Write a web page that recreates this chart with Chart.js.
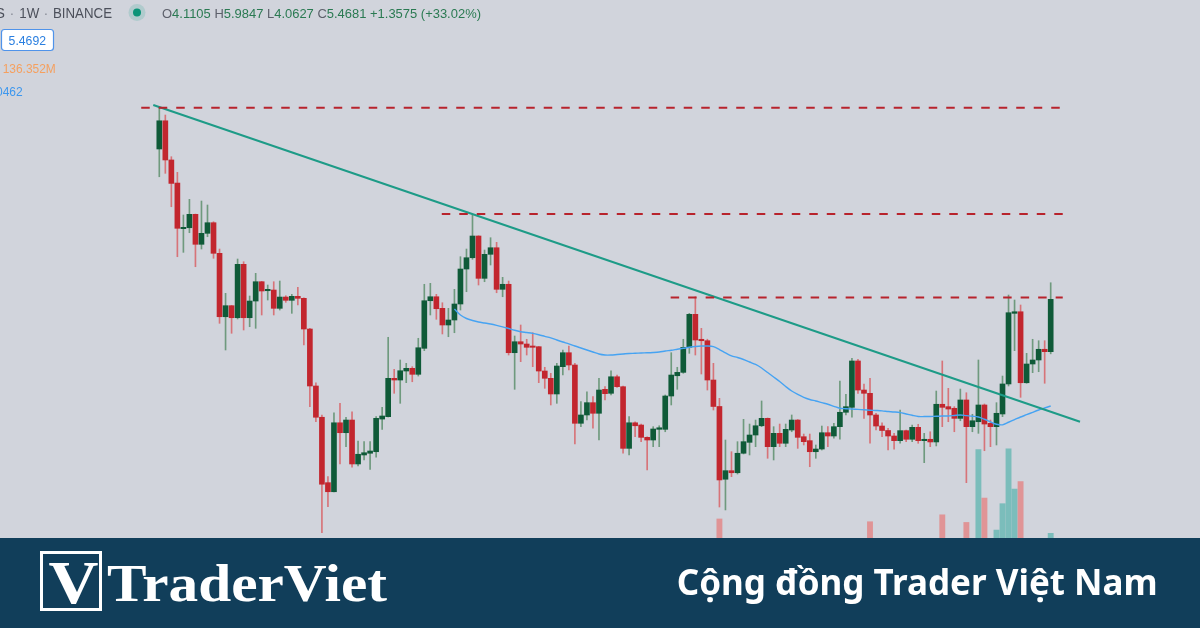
<!DOCTYPE html>
<html>
<head>
<meta charset="utf-8">
<script src="https://cdn.jsdelivr.net/npm/chart.js@4.4.1/dist/chart.umd.min.js"></script>
<style>
html,body{margin:0;padding:0;width:1200px;height:628px;overflow:hidden;background:#d1d4dc;}
#wrap{position:relative;width:1200px;height:628px;}
#c{position:absolute;left:0;top:0;}
#ov{position:absolute;left:0;top:0;}
</style>
</head>
<body>
<div id="wrap">
<canvas id="c" width="1200" height="628"></canvas>
<svg id="ov" width="1200" height="628" xmlns="http://www.w3.org/2000/svg">
  <g font-family="'Liberation Sans', Arial, sans-serif">
    <text x="5" y="18" font-size="14.5" fill="#4c505b" text-anchor="end">S</text>
    <text x="12" y="18" font-size="14.5" fill="#8a8e99" text-anchor="middle">·</text>
    <text x="19.3" y="18" font-size="14.5" fill="#4c505b" textLength="20" lengthAdjust="spacingAndGlyphs">1W</text>
    <text x="46" y="18" font-size="14.5" fill="#8a8e99" text-anchor="middle">·</text>
    <text x="53" y="18" font-size="14.5" fill="#4c505b" textLength="59" lengthAdjust="spacingAndGlyphs">BINANCE</text>
    <circle cx="137" cy="12.5" r="8.5" fill="rgba(8,153,129,0.16)"/>
    <circle cx="137" cy="12.5" r="4" fill="#0b9478"/>
    <text x="162" y="18.3" font-size="13" textLength="319" lengthAdjust="spacingAndGlyphs"><tspan fill="#5d606b">O</tspan><tspan fill="#2a7a52">4.1105 </tspan><tspan fill="#5d606b">H</tspan><tspan fill="#2a7a52">5.9847 </tspan><tspan fill="#5d606b">L</tspan><tspan fill="#2a7a52">4.0627 </tspan><tspan fill="#5d606b">C</tspan><tspan fill="#2a7a52">5.4681 +1.3575 (+33.02%)</tspan></text>
    <rect x="1.5" y="29.5" width="52" height="21" rx="3" ry="3" fill="#ffffff" stroke="#4f93ea" stroke-width="1.2"/>
    <text x="27.3" y="45" font-size="12.5" fill="#2a7fe0" text-anchor="middle" textLength="37.4" lengthAdjust="spacingAndGlyphs">5.4692</text>
    <text x="2.7" y="72.7" font-size="12" fill="#f5a05f" textLength="53" lengthAdjust="spacingAndGlyphs">136.352M</text>
    <text x="22.7" y="96" font-size="12" fill="#3d97ee" text-anchor="end">0462</text>
  </g>
  <rect x="0" y="538" width="1200" height="90" fill="#113e5a"/>
  <rect x="41.5" y="552.5" width="59" height="57" fill="none" stroke="#ffffff" stroke-width="3"/>
  <text x="48.5" y="603" font-family="'Liberation Serif', 'DejaVu Serif', serif" font-weight="700" font-size="62" fill="#ffffff" textLength="50" lengthAdjust="spacingAndGlyphs">V</text>
  <text x="107" y="601.3" font-family="'Liberation Serif', 'DejaVu Serif', serif" font-weight="700" font-size="53" fill="#ffffff" textLength="280" lengthAdjust="spacingAndGlyphs">TraderViet</text>
  <text x="676.7" y="595" font-family="'Noto Sans', 'DejaVu Sans', sans-serif" font-weight="700" font-size="35" fill="#ffffff" textLength="481" lengthAdjust="spacingAndGlyphs">Cộng đồng Trader Việt Nam</text>
</svg>
</div>
<script>
// Weekly candles (price)
const opens = [12.40,14.46,11.68,10.30,8.033,8.075,8.688,7.378,7.833,8.299,
7.025,4.973,5.281,4.946,6.616,4.946,5.417,6.018,5.730,5.752,
5.206,5.536,5.438,5.557,5.497,4.651,3.410,2.876,2.014,1.917,
2.791,2.644,2.833,2.230,2.342,2.364,2.384,2.848,2.885,3.556,
3.523,3.700,3.754,3.634,4.187,5.426,5.545,5.206,4.754,4.885,
5.330,6.449,6.858,7.719,6.130,6.987,7.242,5.774,5.934,4.088,
4.340,4.286,4.240,4.224,3.700,3.556,3.265,3.788,4.088,3.823,
2.783,2.912,3.114,2.939,3.349,3.277,3.586,3.397,2.428,2.791,
2.757,2.578,2.541,2.693,2.693,3.229,3.606,3.673,4.210,5.039,
4.398,4.364,3.523,3.050,2.052,2.150,2.126,2.364,2.509,2.611,
2.746,2.859,2.450,2.635,2.496,2.683,2.833,2.587,2.532,2.384,
2.419,2.644,2.597,2.732,2.955,3.036,3.908,3.336,3.277,2.912,
2.742,2.676,2.597,2.532,2.674,2.551,2.723,2.532,2.551,2.514,
3.087,3.047,3.020,2.859,3.160,2.732,2.807,3.075,2.783,2.732,
2.928,3.448,5.066,5.110,3.471,3.844,3.929,4.165,4.1105];
const highs = [15.61,14.92,11.89,10.92,8.655,9.427,8.70,9.340,9.139,8.344,
7.191,5.649,5.29,6.810,6.710,5.567,6.300,6.03,5.911,6.018,
6.041,5.576,5.618,5.837,5.515,4.67,3.471,2.912,2.081,2.948,
3.103,2.876,2.964,2.527,2.518,2.518,2.885,3.036,4.446,3.734,
3.929,3.858,3.788,4.422,5.934,5.966,5.618,5.367,5.206,5.774,
6.896,7.191,8.655,7.73,7.152,7.648,7.458,6.164,6.041,4.478,
4.754,4.398,4.558,4.230,3.776,3.654,3.858,4.149,4.240,3.858,
3.131,3.305,3.217,3.556,3.397,3.706,3.620,3.41,2.885,2.807,
2.772,2.587,2.732,2.746,3.247,4.088,3.776,4.398,5.066,5.545,
4.669,4.40,3.858,3.189,2.541,2.384,2.518,2.844,2.772,2.833,
3.143,2.865,2.732,2.772,2.772,2.912,2.84,2.625,2.625,2.473,
2.742,2.732,2.783,3.504,3.259,3.965,3.944,3.448,3.556,2.939,
2.791,2.708,2.635,2.992,2.683,2.757,2.768,2.635,2.658,3.318,
3.908,3.367,3.047,3.354,3.287,2.923,3.929,3.092,2.833,3.114,
3.600,5.597,5.447,5.301,4.074,4.398,4.364,4.364,5.9847];
const lows = [10.66,10.86,9.054,6.896,7.062,7.859,6.530,7.191,7.689,6.836,
4.798,4.149,4.544,4.912,4.626,4.710,4.669,5.020,5.447,5.020,
5.158,5.379,5.066,5.301,4.263,3.047,2.807,1.533,1.767,1.915,
2.230,2.450,2.190,2.206,2.279,2.166,2.313,2.693,2.88,3.277,
3.103,3.472,3.490,3.600,4.133,5.020,4.904,4.527,4.460,4.558,
5.158,5.699,6.799,5.911,6.018,6.591,5.667,5.545,4.037,3.349,
3.893,4.037,3.788,3.472,3.367,3.075,3.103,3.620,3.720,2.486,
2.732,2.833,2.712,2.541,3.160,3.247,3.386,2.364,2.342,2.587,
2.518,2.158,2.450,2.450,2.658,3.075,3.349,3.654,4.074,4.037,
3.640,3.336,2.992,1.764,1.736,2.081,2.111,2.355,2.342,2.450,
2.732,2.300,2.279,2.450,2.450,2.658,2.428,2.473,2.197,2.300,
2.406,2.450,2.565,2.551,2.912,2.876,3.277,2.859,2.496,2.683,
2.587,2.406,2.416,2.496,2.518,2.518,2.496,2.246,2.450,2.460,
2.732,2.807,2.658,2.822,2.014,2.658,2.635,2.397,2.450,2.473,
2.885,3.410,4.133,3.206,3.461,3.667,3.686,3.461,4.0627];
const closes = [14.46,11.68,10.28,8.050,8.093,8.688,7.378,7.833,8.299,7.025,
4.973,5.281,4.946,6.616,4.946,5.417,6.018,5.721,5.774,5.206,
5.536,5.438,5.557,5.497,4.651,3.410,2.876,1.997,1.917,2.791,
2.644,2.833,2.230,2.351,2.371,2.393,2.859,2.896,3.556,3.523,
3.706,3.754,3.634,4.200,5.426,5.545,5.195,4.754,4.885,5.330,
6.449,6.858,7.719,6.130,6.987,7.242,5.774,5.934,4.088,4.340,
4.286,4.210,4.210,3.700,3.556,3.265,3.802,4.088,3.823,2.783,
2.912,3.114,2.939,3.336,3.270,3.586,3.397,2.428,2.791,2.746,
2.578,2.541,2.698,2.716,3.229,3.620,3.673,4.210,5.039,4.381,
4.364,3.523,3.050,2.044,2.150,2.126,2.364,2.518,2.611,2.746,
2.859,2.450,2.635,2.496,2.693,2.833,2.578,2.518,2.384,2.419,
2.644,2.597,2.732,2.955,3.047,3.908,3.336,3.277,2.912,2.742,
2.676,2.597,2.532,2.674,2.551,2.723,2.532,2.551,2.514,3.087,
3.036,3.008,2.859,3.160,2.732,2.822,3.075,2.772,2.732,2.939,
3.448,5.083,5.110,3.471,3.844,3.929,4.165,4.1105,5.4681];

// Volume (millions) for the weeks whose bars rise above the footer band
const volumeWeeks = [93,118,130,134,136,137,139,140,141,142,143,148];
const volumeM = [157,153,163,152,257,187,141,179,258,200,211,136.352];

// Moving average line (starts at week 49)
const maStart = 49;
const maValues = [5.186,5.020,4.925,4.872,4.832,4.806,4.780,4.746,4.707,4.664,
4.621,4.583,4.563,4.542,4.509,4.470,4.432,4.381,4.333,4.291,
4.240,4.194,4.149,4.104,4.059,4.037,4.037,4.048,4.059,4.071,
4.075,4.082,4.086,4.093,4.104,4.126,4.142,4.165,4.187,4.210,
4.228,4.240,4.240,4.224,4.160,4.086,4.019,3.983,3.940,3.886,
3.834,3.761,3.669,3.581,3.494,3.401,3.318,3.256,3.206,3.169,
3.143,3.114,3.087,3.053,3.020,3.013,3.008,3.002,2.995,2.989,
2.984,2.978,2.968,2.960,2.949,2.928,2.907,2.888,2.887,2.888,
2.891,2.895,2.896,2.904,2.912,2.902,2.893,2.880,2.845,2.805,
2.769,2.760,2.799,2.839,2.880,2.917,2.955,2.992,3.025,3.058];

// Drawing tools: descending trendline and horizontal resistance levels
const trendWeeks = [-1.0, 152.87];
const trendPrices = [15.76, 2.807];
const levelPrices = [15.53, 8.70, 5.522];
const levelStartWeeks = [-3.0, 46.9, 84.9];
const levelEndWeek = 150.0;

const GREEN_BODY = '#0f5a38', RED_BODY = '#c2262e';
const GREEN_WICK = '#6f9a7e', RED_WICK = '#d77479';
const VOL_UP = 'rgba(38,166,154,0.5)', VOL_DOWN = 'rgba(239,83,80,0.5)';

const idx = opens.map((_, i) => i);
const up = idx.map(i => closes[i] >= opens[i]);

const datasets = [];
datasets.push({
  type: 'bar', label: 'volume', yAxisID: 'yv', order: 6, grouped: false,
  data: volumeWeeks.map((w, k) => ({x: w, y: volumeM[k]})),
  backgroundColor: volumeWeeks.map(w => up[w] ? VOL_UP : VOL_DOWN),
  barThickness: 5.2, maxBarThickness: 5.2, borderWidth: 0
});
datasets.push({
  type: 'bar', label: 'wick', yAxisID: 'y', order: 5, grouped: false,
  data: idx.map(i => ({x: i, y: [lows[i], highs[i]]})),
  backgroundColor: idx.map(i => up[i] ? GREEN_WICK : RED_WICK),
  barThickness: 1, maxBarThickness: 1, borderWidth: 0
});
datasets.push({
  type: 'bar', label: 'body', yAxisID: 'y', order: 4, grouped: false,
  data: idx.map(i => ({x: i, y: [opens[i], closes[i]]})),
  backgroundColor: idx.map(i => up[i] ? GREEN_BODY : RED_BODY),
  barThickness: 5, maxBarThickness: 5, borderWidth: 0, minBarLength: 1.2
});
datasets.push({
  type: 'line', label: 'ma', yAxisID: 'y', order: 3,
  data: maValues.map((v, k) => ({x: maStart + k, y: v})),
  borderColor: '#46a3f2', borderWidth: 1.4, pointRadius: 0, tension: 0.3, fill: false
});
levelPrices.forEach((p, k) => {
  datasets.push({
    type: 'line', label: 'level' + k, yAxisID: 'y', order: 1,
    data: [{x: levelStartWeeks[k], y: p}, {x: levelEndWeek, y: p}],
    borderColor: '#b8232c', borderWidth: 2, borderDash: [8.5, 9], pointRadius: 0, fill: false
  });
});
datasets.push({
  type: 'line', label: 'trend', yAxisID: 'y', order: 2,
  data: trendWeeks.map((w, k) => ({x: w, y: trendPrices[k]})),
  borderColor: '#1d9b87', borderWidth: 2, pointRadius: 0, fill: false
});

new Chart(document.getElementById('c'), {
  type: 'bar',
  data: {datasets},
  options: {
    responsive: false, animation: false, devicePixelRatio: 1, events: [],
    layout: {padding: 0},
    plugins: {legend: {display: false}, tooltip: {enabled: false}},
    scales: {
      x: {type: 'linear', min: -26.45, max: 172.79, display: false, offset: false},
      y: {type: 'logarithmic', min: 0.9126, max: 27.917, display: false},
      yv: {type: 'linear', min: 0, max: 904.3, display: false}
    }
  }
});
</script>
</body>
</html>
